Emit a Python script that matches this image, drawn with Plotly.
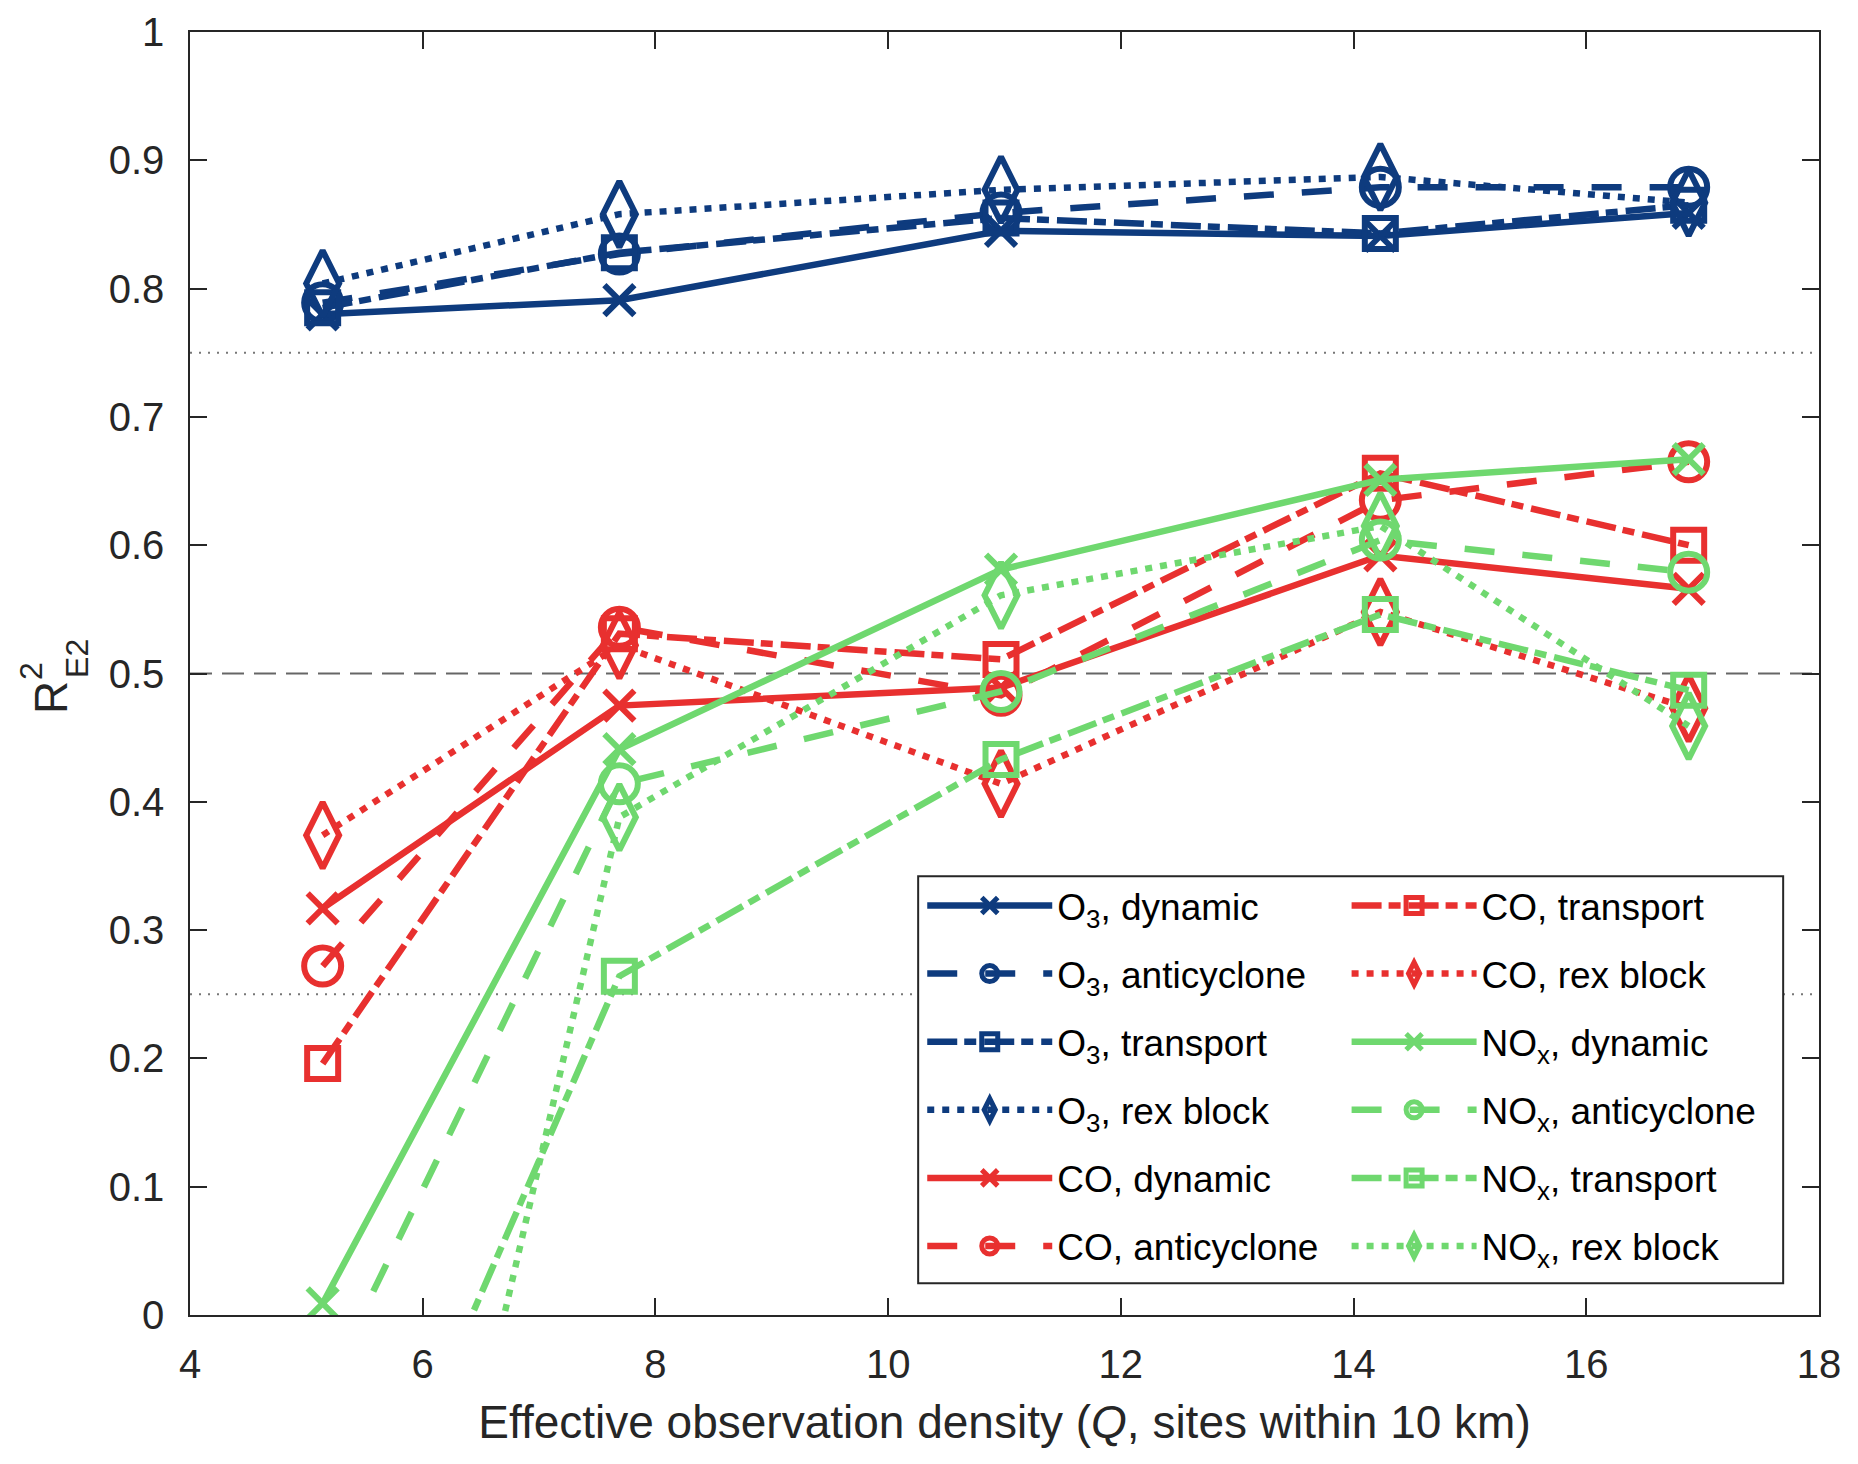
import plotly.graph_objects as go

# ---------------- data ----------------
Q = [5.14, 7.69, 10.97, 14.23, 16.88]

o3_dynamic = [0.780, 0.791, 0.845, 0.841, 0.859]
o3_anticyclone = [0.789, 0.827, 0.859, 0.879, 0.879]
o3_transport = [0.785, 0.828, 0.855, 0.843, 0.865]
o3_rexblock = [0.804, 0.858, 0.877, 0.887, 0.867]

co_dynamic = [0.317, 0.475, 0.489, 0.592, 0.566]
co_anticyclone = [0.272, 0.536, 0.483, 0.635, 0.665]
co_transport = [0.196, 0.531, 0.511, 0.656, 0.600]
co_rexblock = [0.374, 0.522, 0.414, 0.548, 0.473]

nox_dynamic = [0.009, 0.441, 0.581, 0.651, 0.667]
nox_anticyclone = [-0.063, 0.414, 0.486, 0.604, 0.579]
nox_transport = [-0.267, 0.264, 0.433, 0.546, 0.487]
nox_rexblock = [-0.612, 0.388, 0.561, 0.615, 0.459]

species = ["O<sub>3</sub>", "CO", "NO<sub>x</sub>"]
regimes = ["dynamic", "anticyclone", "transport", "rex block"]
series = [
    [o3_dynamic, o3_anticyclone, o3_transport, o3_rexblock],
    [co_dynamic, co_anticyclone, co_transport, co_rexblock],
    [nox_dynamic, nox_anticyclone, nox_transport, nox_rexblock],
]
ref_dotted = [0.25, 0.75]
ref_dashed = [0.5]

X_RANGE = [4, 18]
Y_RANGE = [0, 1]

# ---------------- styles ----------------
colors = ["#0E3B7E", "#E8302F", "#6FD86F"]
symbols = ["x-thin-open", "circle-open", "square-open", "diamond-tall-open"]
msizes = [30, 37, 31, 47]
dashes = ["solid", "30px,28px", "30px,7px,12px,8px", "7px,8px"]
FONT = "Liberation Sans, Arial, sans-serif"
LW = 6.5

fig = go.Figure()

for y in ref_dotted:
    fig.add_hline(y=y, line=dict(color="#777777", width=2, dash="2px,7px"), layer="below")
for y in ref_dashed:
    fig.add_hline(y=y, line=dict(color="#666666", width=2, dash="22px,10px"), layer="below")

k = 0
for si, sp in enumerate(species):
    for ri, rg in enumerate(regimes):
        fig.add_trace(go.Scatter(
            x=Q, y=series[si][ri],
            mode="lines+markers",
            name=f"{sp}, {rg}",
            line=dict(color=colors[si], width=LW, dash=dashes[ri]),
            marker=dict(symbol=symbols[ri], size=msizes[ri], color=colors[si],
                        line=dict(color=colors[si], width=6)),
            legend="legend" if k < 6 else "legend2",
            legendgroup=f"g{k}",
        ))
        k += 1

axis_common = dict(
    showgrid=False, zeroline=False, showline=True, mirror="ticks",
    linecolor="#262626", linewidth=1.5,
    ticks="inside", ticklen=17, tickwidth=1.5, tickcolor="#262626",
    tickfont=dict(family=FONT, size=40, color="#262626"),
    ticklabeloverflow="allow", automargin=False,
)

legend_common = dict(
    yanchor="top", xanchor="left",
    bgcolor="rgba(0,0,0,0)", borderwidth=0,
    font=dict(family=FONT, size=37, color="#000000"),
    itemwidth=125, traceorder="grouped", tracegroupgap=17,
)

# the html body adds an 8px offset; margins compensate for it
fig.update_layout(
    width=1858, height=1464,
    margin=dict(l=182, r=47, t=24, b=157, autoexpand=False),
    paper_bgcolor="white", plot_bgcolor="white",
    font=dict(family=FONT, color="#262626"),
    xaxis=dict(range=X_RANGE, dtick=2, tick0=4,
               title=dict(text="Effective observation density (<i>Q</i>, sites within 10 km)",
                          font=dict(family=FONT, size=46, color="#262626"), standoff=21),
               ticklabelstandoff=13, **axis_common),
    yaxis=dict(range=Y_RANGE, dtick=0.1, tick0=0, ticklabelstandoff=16, **axis_common),
    legend=dict(x=0.4495, y=0.343, **legend_common),
    legend2=dict(x=0.710, y=0.343, **legend_common),
    showlegend=True,
)

fig.add_shape(type="rect", xref="paper", yref="paper",
              x0=0.447, x1=0.978, y0=0.0248, y1=0.342,
              fillcolor="white", line=dict(color="#262626", width=2, dash="solid"),
              layer="above")

# y-axis label: R with stacked 2 / E2
fig.add_annotation(text="R", xref="paper", yref="paper", x=-0.0853, y=0.481,
                   showarrow=False, textangle=-90, xanchor="center", yanchor="middle",
                   font=dict(family=FONT, size=46, color="#262626"))
fig.add_annotation(text="2", xref="paper", yref="paper", x=-0.0975, y=0.502,
                   showarrow=False, textangle=-90, xanchor="center", yanchor="middle",
                   font=dict(family=FONT, size=32, color="#262626"))
fig.add_annotation(text="E2", xref="paper", yref="paper", x=-0.0695, y=0.512,
                   showarrow=False, textangle=-90, xanchor="center", yanchor="middle",
                   font=dict(family=FONT, size=32, color="#262626"))

fig.write_html("out.html")
